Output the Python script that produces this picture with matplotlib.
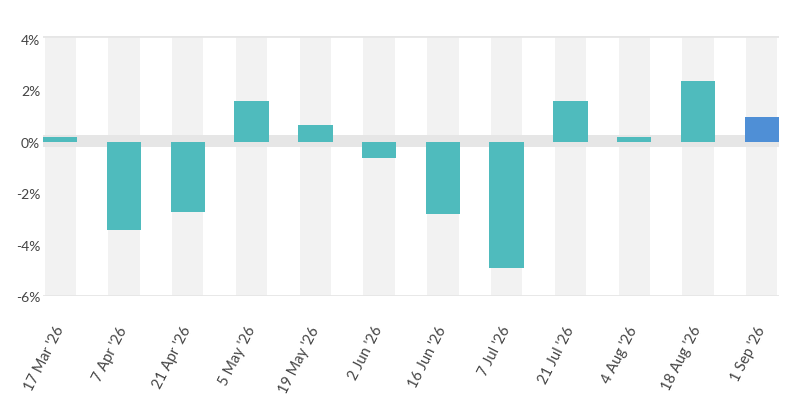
import matplotlib.pyplot as plt
import numpy as np

fechas = ["17 Mar '26", "7 Apr '26", "21 Apr '26", "5 May '26", "19 May '26", "2 Jun '26",
          "16 Jun '26", "7 Jul '26", "21 Jul '26", "4 Aug '26", "18 Aug '26", "1 Sep '26"]
valores = [0.17, -3.43, -2.72, 1.57, 0.66, -0.63, -2.81, -4.92, 1.57, 0.17, 2.37, 0.96]
yticks = [4, 2, 0, -2, -4, -6]

plt.rcParams["font.family"] = ["Lato", "DejaVu Sans"]

fig = plt.figure(figsize=(7.98, 4.06), dpi=100)
ax = fig.add_axes([43 / 798, 1 - 297 / 406, (779 - 43) / 798, (297 - 37) / 406])

x = np.arange(len(fechas))
ymin, ymax = -6, 4.1

# columnas de fondo
ax.bar(x, ymax - ymin, bottom=ymin, width=0.49, color="#f2f2f2", zorder=0)
# banda del cero
ax.axhspan(-0.23, 0.25, color="#e6e6e6", zorder=1, lw=0)

colores = ["#4fbbbd"] * (len(valores) - 1) + ["#4f8fd6"]
ax.bar(x, valores, width=0.54, color=colores, zorder=2)

ax.axhline(ymax, color="#e6e6e6", lw=2, zorder=3)
ax.axhline(ymin, color="#e6e6e6", lw=2, zorder=3)

ax.set_xlim(-0.27, len(fechas) - 1 + 0.27)
ax.set_ylim(ymin, ymax)
ax.set_yticks(yticks)
ax.set_yticklabels([f"{v}%" for v in yticks])
ax.set_xticks(x)
ax.set_xticklabels(fechas, rotation=63, ha="right", va="center", rotation_mode="anchor",
                   fontsize=10.5)

for s in ax.spines.values():
    s.set_visible(False)
ax.tick_params(axis="both", length=0, labelcolor="#444444")
ax.tick_params(axis="y", pad=2, labelsize=10)
ax.tick_params(axis="x", pad=22)

plt.savefig("out.png", dpi=100)
